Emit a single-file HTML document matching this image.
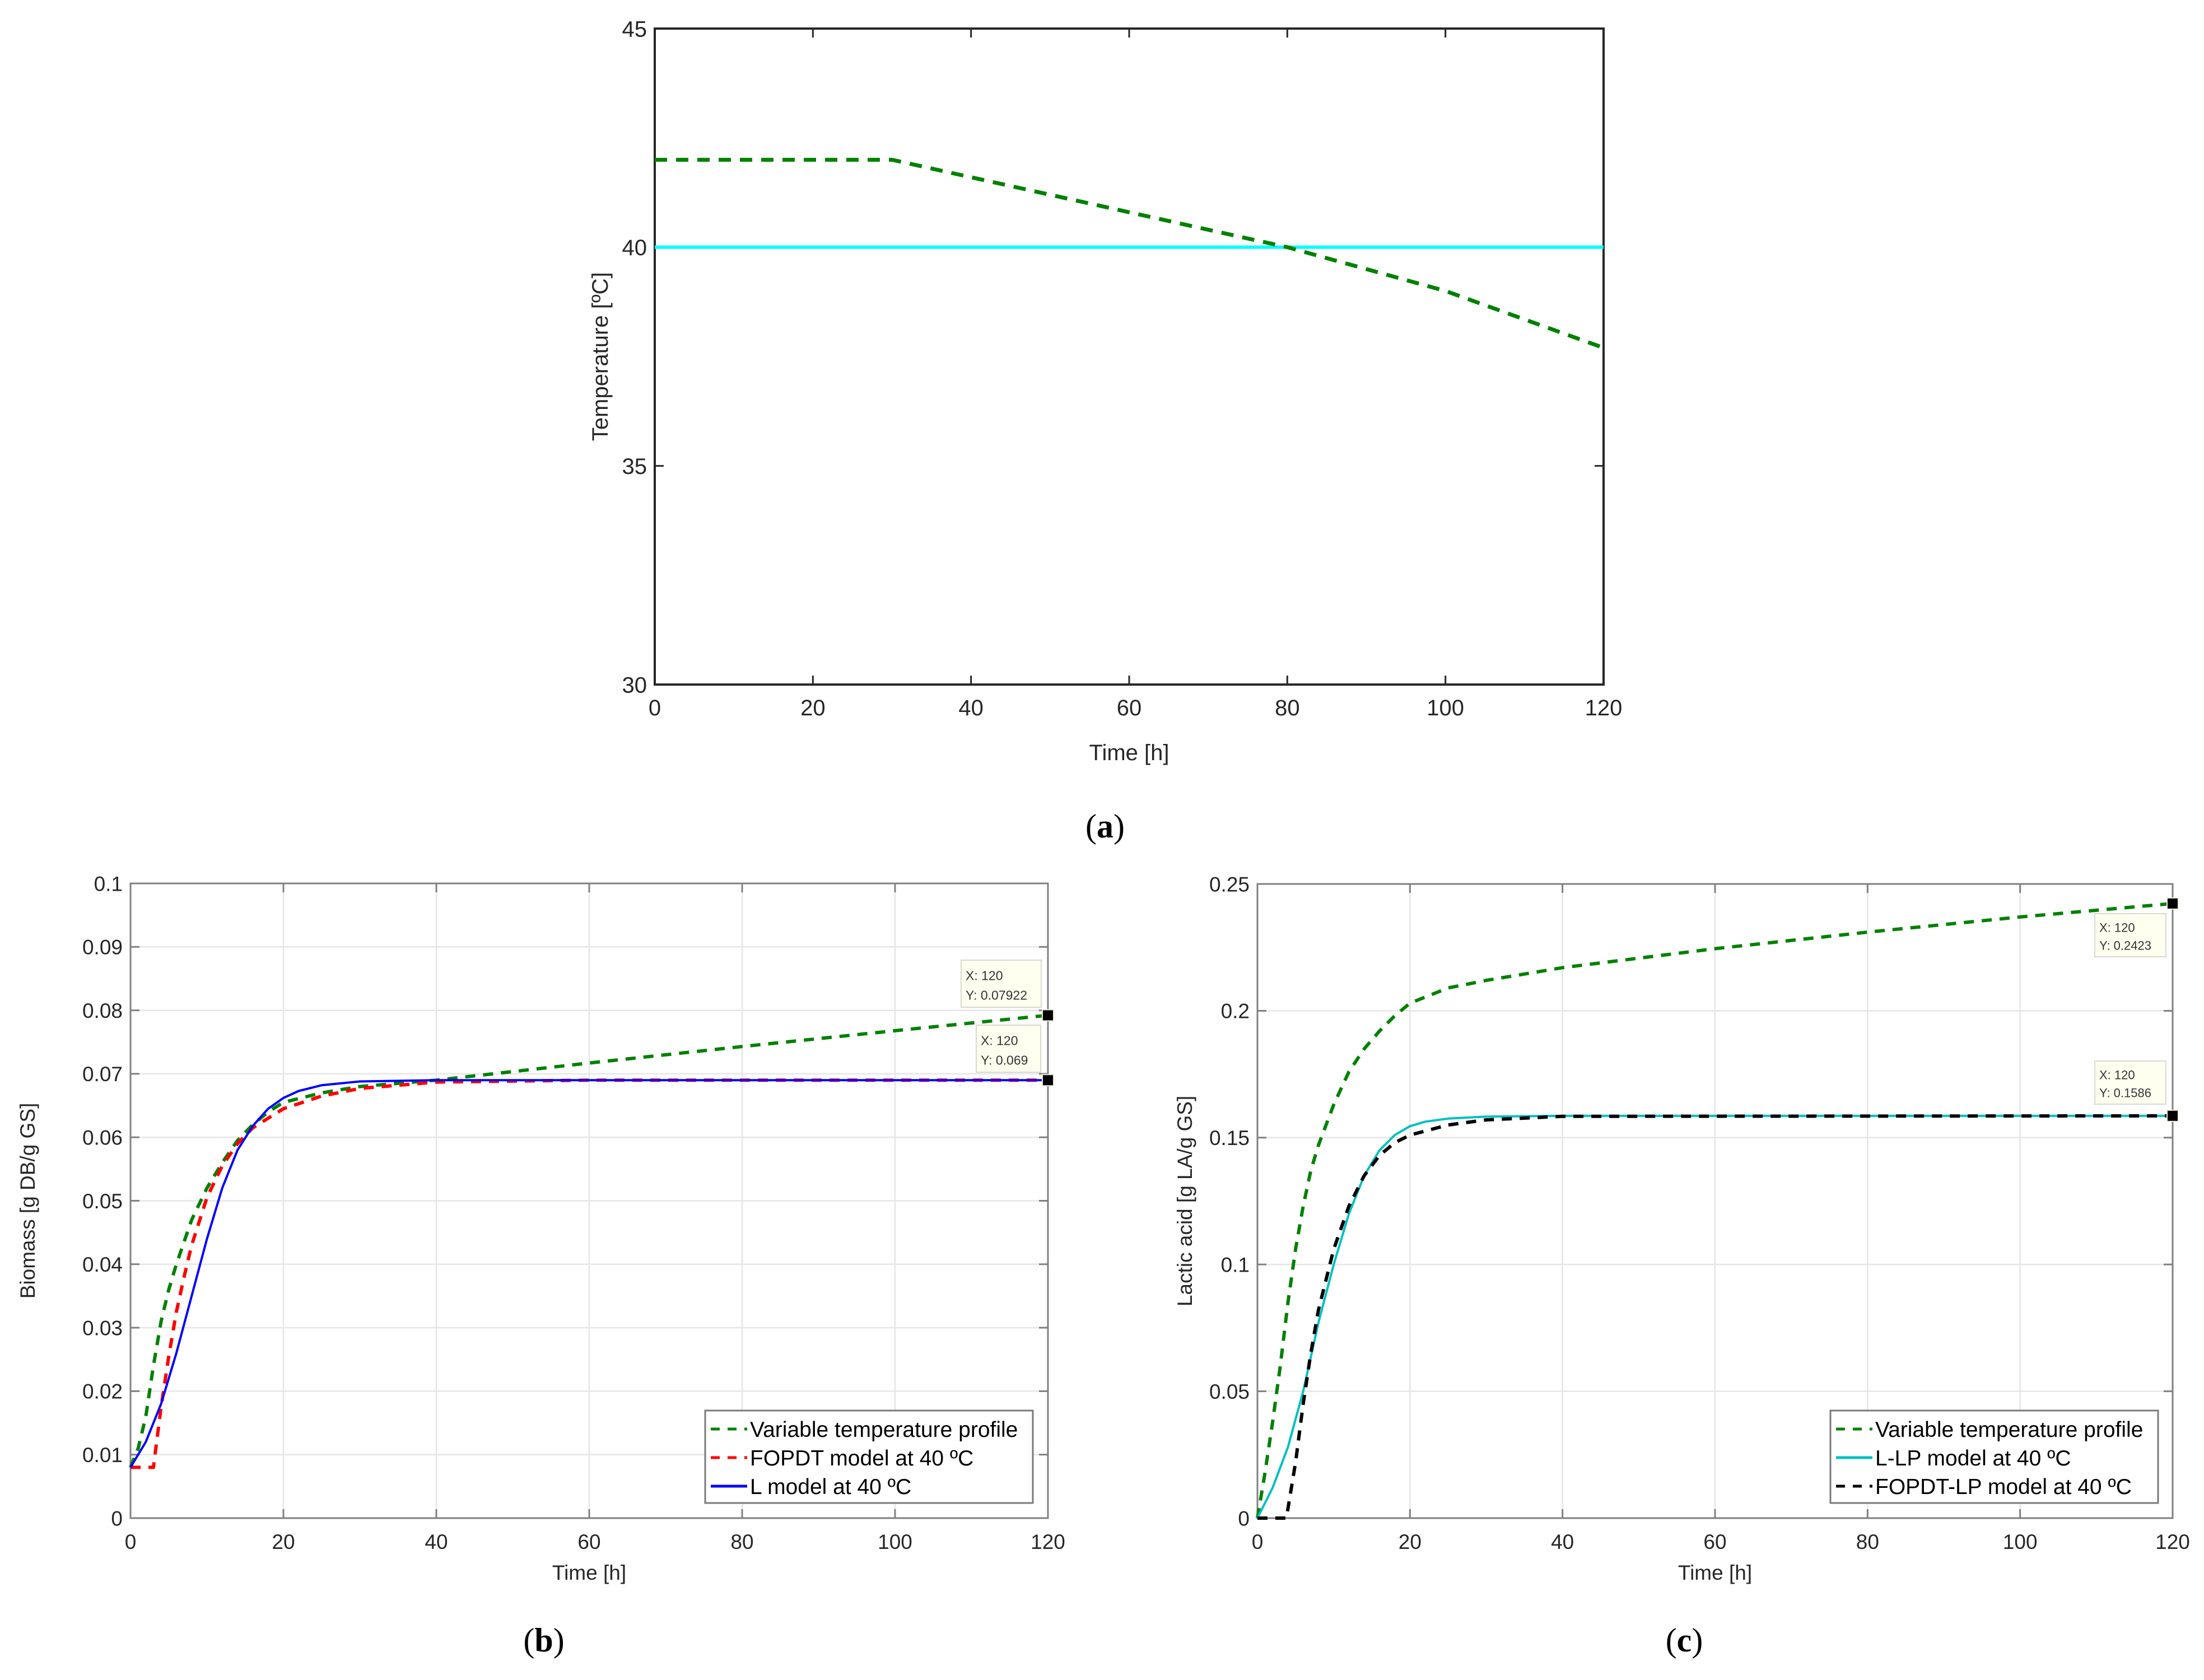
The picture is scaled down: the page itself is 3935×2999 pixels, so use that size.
<!DOCTYPE html>
<html><head><meta charset="utf-8"><style>
html,body{margin:0;padding:0;background:#fff}
svg{display:block}
text{font-family:"Liberation Sans",Arial,sans-serif}
</style></head><body>
<svg id="fig" width="3935" height="2999" viewBox="0 0 3935 2999" xmlns="http://www.w3.org/2000/svg"></svg>
<script>
// ---- data (a) ----
const aTicksX=[0,20,40,60,80,100,120];
const aTicksY=[30,35,40,45];
const aVarT=[0,30,40,60,80,100,120];
const aVarV=[42,42,41.6,40.8,40.0,39.0,37.7];
const aConstT=[0,120];
const aConstV=[40,40];
// ---- data (b) ----
const bTicksX=[0,20,40,60,80,100,120];
const bTicksY=[0,0.01,0.02,0.03,0.04,0.05,0.06,0.07,0.08,0.09,0.1];
const bTickLabelsY=["0","0.01","0.02","0.03","0.04","0.05","0.06","0.07","0.08","0.09","0.1"];
const bVarT=[0,1,2,3,4,5,6,8,10,12,14,16,18,20,25,30,40,60,80,100,120];
const bVarV=[0.008,0.011,0.016,0.024,0.031,0.036,0.040,0.047,0.052,0.056,0.0595,0.062,0.064,0.0655,0.067,0.068,0.069,0.0717,0.0743,0.0768,0.07922];
const bFopT=[0,3,4,5,6,7,8,10,12,14,16,18,20,25,30,40,60,120];
const bFopV=[0.008,0.008,0.0175,0.0255,0.0325,0.038,0.043,0.0505,0.0555,0.059,0.0615,0.063,0.0645,0.0665,0.0677,0.0687,0.069,0.069];
const bLT=[0,2,4,6,8,10,12,14,16,18,20,22,25,30,40,120];
const bLV=[0.008,0.012,0.018,0.026,0.035,0.044,0.052,0.058,0.0618,0.0645,0.0662,0.0673,0.0682,0.0688,0.069,0.069];
// ---- data (c) ----
const cTicksX=[0,20,40,60,80,100,120];
const cTicksY=[0,0.05,0.1,0.15,0.2,0.25];
const cTickLabelsY=["0","0.05","0.1","0.15","0.2","0.25"];
const cVarT=[0,1,2,3,4,5,6,7,8,10,12,14,16,18,20,25,30,40,60,80,100,120];
const cVarV=[0,0.018,0.038,0.06,0.085,0.106,0.123,0.137,0.147,0.163,0.176,0.185,0.192,0.198,0.203,0.209,0.212,0.217,0.2245,0.231,0.237,0.2423];
const cLT=[0,2,4,6,8,10,12,14,16,18,20,22,25,30,40,120];
const cLV=[0,0.012,0.028,0.05,0.077,0.1,0.12,0.135,0.145,0.151,0.1545,0.1563,0.1575,0.1583,0.1586,0.1586];
const cFopT=[0,3.8,5,6,7,8,10,12,14,16,18,20,25,30,40,120];
const cFopV=[0,0,0.022,0.045,0.065,0.082,0.106,0.123,0.135,0.143,0.148,0.151,0.155,0.157,0.1584,0.1586];

const NS="http://www.w3.org/2000/svg";
const svg=document.getElementById('fig');
function el(tag,attrs,parent,txt){const e=document.createElementNS(NS,tag);for(const k in attrs)e.setAttribute(k,attrs[k]);if(txt!==undefined)e.textContent=txt;(parent||svg).appendChild(e);return e;}

function plot(cfg){
  const g=el('g',{});
  
  
  const X=v=>cfg.l+(v-cfg.x0)/(cfg.x1-cfg.x0)*(cfg.r-cfg.l);
  const Y=v=>cfg.b-(v-cfg.y0)/(cfg.y1-cfg.y0)*(cfg.b-cfg.t);
  if(cfg.grid){
    cfg.tx.forEach(v=>{const ln=el('line',{x1:X(v),x2:X(v),y1:cfg.t,y2:cfg.b,stroke:'#e6e6e6','stroke-width':2.5},g);
      });
    cfg.ty.forEach(v=>{const ln=el('line',{x1:cfg.l,x2:cfg.r,y1:Y(v),y2:Y(v),stroke:'#e6e6e6','stroke-width':2.5},g);
      });
  }
  const ax=cfg.axisColor;
  cfg.tx.forEach((v,i)=>{
    el('line',{x1:X(v),x2:X(v),y1:cfg.b,y2:cfg.b-16,stroke:ax,'stroke-width':3},g);
    el('line',{x1:X(v),x2:X(v),y1:cfg.t,y2:cfg.t+16,stroke:ax,'stroke-width':3},g);
    const t=el('text',{x:X(v),y:cfg.b+55,'font-size':cfg.fs,'text-anchor':'middle',fill:'#262626'},g,String(v));
    
  });
  cfg.ty.forEach((v,i)=>{
    el('line',{x1:cfg.l,x2:cfg.l+16,y1:Y(v),y2:Y(v),stroke:ax,'stroke-width':3},g);
    el('line',{x1:cfg.r,x2:cfg.r-16,y1:Y(v),y2:Y(v),stroke:ax,'stroke-width':3},g);
    const t=el('text',{x:cfg.l-14,y:Y(v)+cfg.fs*0.36,'font-size':cfg.fs,'text-anchor':'end',fill:'#262626'},g,cfg.tyl?cfg.tyl[i]:String(v));
    
  });
  const box=el('rect',{x:cfg.l,y:cfg.t,width:cfg.r-cfg.l,height:cfg.b-cfg.t,fill:'none',stroke:ax,'stroke-width':cfg.bw},g);
  
  cfg.series.forEach(s=>{
    const d=s.t.map((tv,i)=>(i?'L':'M')+X(tv).toFixed(1)+' '+Y(s.v[i]).toFixed(1)).join(' ');
    const p=el('path',{d:d,fill:'none',stroke:s.c,'stroke-width':s.w,'stroke-dasharray':s.dash||'none','stroke-linejoin':'round'},g);
    
  });
  const xt=el('text',{x:(cfg.l+cfg.r)/2,y:cfg.b+cfg.xtOff,'font-size':cfg.fs,'text-anchor':'middle',fill:'#262626'},g,'Time [h]');
  
  const yt=el('text',{x:0,y:0,'font-size':cfg.fs,'text-anchor':'middle',fill:'#262626',transform:`translate(${cfg.ytx},${(cfg.t+cfg.b)/2}) rotate(-90)`},g,cfg.ytitle);
  
  return {X,Y,g};
}

// (a)
plot({name:'temperature-chart',l:1169,r:2863,t:51,b:1222,x0:0,x1:120,y0:30,y1:45,tx:aTicksX,ty:aTicksY,
  grid:false,axisColor:'#262626',bw:4,fs:40,xtOff:135,ytx:1085,ytitle:'Temperature [ºC]',
  series:[{name:'constant-temperature-line',t:aConstT,v:aConstV,c:'#00ffff',w:6},
          {name:'variable-temperature-line',t:aVarT,v:aVarV,c:'#008000',w:7,dash:'22 16'}]});

function legend(x,y,w,h,items,name){
  const g=el('g',{});
  
  el('rect',{x:x,y:y,width:w,height:h,fill:'#fff',stroke:'#7a7a7a','stroke-width':3},g);
  items.forEach((it,i)=>{
    const cy=y+33+i*51;
    el('line',{x1:x+10,x2:x+75,y1:cy,y2:cy,stroke:it.c,'stroke-width':5,'stroke-dasharray':it.dash||'none'},g);
    const t=el('text',{x:x+80,y:cy+14,'font-size':39,fill:'#000'},g,it.label);
    
  });
}
function tip(x,y,w,h,fs,l1,l2,mx,my,name){
  const g=el('g',{});
  
  el('rect',{x:x,y:y,width:w,height:h,fill:'#fffff0',stroke:'#d8d8d0','stroke-width':2},g);
  el('text',{x:x+8,y:y+h*0.42,'font-size':fs,fill:'#333'},g,l1);
  el('text',{x:x+8,y:y+h*0.84,'font-size':fs,fill:'#333'},g,l2);
  el('rect',{x:mx-10,y:my-10,width:20,height:20,fill:'#000',stroke:'#eeeedd','stroke-width':2},g);
}

// (b)
const pb=plot({name:'biomass-chart',l:233,r:1871,t:1577,b:2710,x0:0,x1:120,y0:0,y1:0.1,tx:bTicksX,ty:bTicksY,tyl:bTickLabelsY,
  grid:true,axisColor:'#808080',bw:3,fs:37,xtOff:110,ytx:62,ytitle:'Biomass [g DB/g GS]',
  series:[{name:'variable-temperature-biomass',t:bVarT,v:bVarV,c:'#008000',w:6,dash:'18 14'},
          {name:'fopdt-biomass',t:bFopT,v:bFopV,c:'#ff0000',w:6,dash:'18 14'},
          {name:'l-model-biomass',t:bLT,v:bLV,c:'#0000ff',w:4}]});
legend(1259,2518,585,165,[{label:'Variable temperature profile',c:'#008000',dash:'16 14'},{label:'FOPDT model at 40 ºC',c:'#ff0000',dash:'16 14'},{label:'L model at 40 ºC',c:'#0000ff'}],'biomass-legend');
tip(1716,1714,143,84,23,'X: 120','Y: 0.07922',pb.X(120),pb.Y(0.07922),'datatip-variable-biomass');
tip(1743,1830,115,84,23,'X: 120','Y: 0.069',pb.X(120),pb.Y(0.069),'datatip-model-biomass');

// (c)
const pc=plot({name:'lactic-acid-chart',l:2245,r:3879,t:1578,b:2710,x0:0,x1:120,y0:0,y1:0.25,tx:cTicksX,ty:cTicksY,tyl:cTickLabelsY,
  grid:true,axisColor:'#808080',bw:3,fs:37,xtOff:110,ytx:2128,ytitle:'Lactic acid [g LA/g GS]',
  series:[{name:'variable-temperature-lactic',t:cVarT,v:cVarV,c:'#008000',w:6,dash:'18 14'},
          {name:'l-lp-lactic',t:cLT,v:cLV,c:'#00bfbf',w:4},
          {name:'fopdt-lp-lactic',t:cFopT,v:cFopV,c:'#000000',w:6,dash:'18 14'}]});
legend(3268,2518,585,165,[{label:'Variable temperature profile',c:'#008000',dash:'16 14'},{label:'L-LP model at 40 ºC',c:'#00bfbf'},{label:'FOPDT-LP model at 40 ºC',c:'#000',dash:'16 14'}],'lactic-legend');
tip(3740,1631,127,77,22,'X: 120','Y: 0.2423',pc.X(120),pc.Y(0.2423),'datatip-variable-lactic');
tip(3740,1894,127,77,22,'X: 120','Y: 0.1586',pc.X(120),pc.Y(0.1586),'datatip-model-lactic');

// captions
[['(a)',1973,1495,'caption-a'],['(b)',971,2948,'caption-b'],['(c)',3007,2948,'caption-c']].forEach(c=>{
  const t=el('text',{x:c[1],y:c[2],'font-size':60,'text-anchor':'middle',fill:'#000',style:'font-family:"Liberation Serif",serif'});
  
  
  el('tspan',{},t,'(');el('tspan',{'font-weight':'bold'},t,c[0][1]);el('tspan',{},t,')');
});
</script>
</body></html>
